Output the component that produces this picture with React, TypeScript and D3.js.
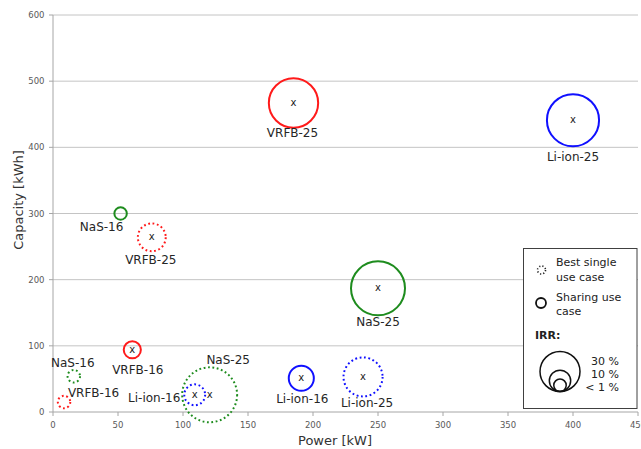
import React from "react";
import * as d3 from "d3";

// ---- data ----
const names = ["VRFB-25", "Li-ion-25", "NaS-16", "VRFB-25", "NaS-25", "VRFB-16", "NaS-16", "VRFB-16", "NaS-25", "Li-ion-16", "Li-ion-16", "Li-ion-25"];
const tech = ["VRFB", "Li-ion", "NaS", "VRFB", "NaS", "VRFB", "NaS", "VRFB", "NaS", "Li-ion", "Li-ion", "Li-ion"];
const useCase = ["sharing", "sharing", "sharing", "single", "sharing", "sharing", "single", "single", "single", "single", "sharing", "single"];
const power = [185, 400, 52, 76, 250, 61, 16, 8.5, 120.5, 109, 191, 238.5];
const capacity = [467, 441, 300, 264, 187, 94, 54, 15, 26, 26, 51, 53];
const irr = [40, 43, 0.5, 17, 45, 5.5, 0.5, 0.5, 46, 9.5, 14, 29];

const xTicks = [0, 50, 100, 150, 200, 250, 300, 350, 400, 450];
const yTicks = [0, 100, 200, 300, 400, 500, 600];
const legendIrr = [30, 10, 0.5];
const legendIrrLabels = ["30 %", "10 %", "< 1 %"];

// label placement (layout only), px offsets from bubble centre
const labelDx = [-1, 0, -19, -1, 0, 5.5, -1, 29.5, 18.5, -40.5, 1, 4];
const labelDy = [30, 36, 13.5, 22, 33, 20, -14, -9, -35, 3, 20, 26];

const colors: Record<string, string> = { VRFB: "#ff1a1a", "Li-ion": "#1010ff", NaS: "#1e8c1e" };

export default function App() {
  const W = 641, H = 449;
  const x = d3.scaleLinear().domain([0, 450]).range([53, 638]);
  const y = d3.scaleLinear().domain([0, 600]).range([412, 15]);
  const r = d3.scaleLinear().domain([0, 30]).range([6, 20]);
  const font = "'DejaVu Sans', Verdana, sans-serif";

  return (
    <svg width={W} height={H} style={{ position: "absolute", left: 0, top: 0, background: "#fff" }} fontFamily={font}>
      <rect x={0} y={0} width={W} height={H} fill="#fff" />
      {/* gridlines */}
      {yTicks.filter((t) => t > 0).map((t) => (
        <line key={"g" + t} x1={x(0)} x2={x(450)} y1={y(t)} y2={y(t)} stroke="#c4c4c4" strokeWidth={1} />
      ))}
      {/* axes */}
      <line x1={x(0)} x2={x(0)} y1={y(0)} y2={y(600)} stroke="#a6a6a6" />
      <line x1={x(0)} x2={x(450)} y1={y(0)} y2={y(0)} stroke="#a6a6a6" />
      {yTicks.map((t) => (
        <g key={"y" + t}>
          <line x1={x(0) - 4} x2={x(0)} y1={y(t)} y2={y(t)} stroke="#a6a6a6" />
          <text x={x(0) - 8.5} y={y(t) + 3} textAnchor="end" fontSize={8.5} fill="#595959">{t}</text>
        </g>
      ))}
      {xTicks.map((t) => (
        <g key={"x" + t}>
          <line x1={x(t)} x2={x(t)} y1={y(0)} y2={y(0) + 4} stroke="#a6a6a6" />
          <text x={x(t)} y={y(0) + 16} textAnchor="middle" fontSize={8.5} fill="#595959">{t}</text>
        </g>
      ))}
      <text x={335} y={445} textAnchor="middle" fontSize={13} fill="#333">Power [kW]</text>
      <text transform={`translate(23,200) rotate(-90)`} textAnchor="middle" fontSize={13} fill="#333">Capacity [kWh]</text>

      {/* bubbles */}
      {names.map((n, i) => {
        const cx = x(power[i]), cy = y(capacity[i]);
        const single = useCase[i] === "single";
        return (
          <g key={"b" + i}>
            <circle cx={cx} cy={cy} r={r(irr[i])} fill="none" stroke={colors[tech[i]]}
              strokeWidth={2} strokeDasharray={single ? "1.8 2.6" : undefined} />
            {irr[i] > 1 && (
              <text x={cx} y={cy + 3} textAnchor="middle" fontSize={10} fill="#222">x</text>
            )}
            <text x={cx + labelDx[i]} y={cy + labelDy[i] + 4.3} textAnchor="middle" fontSize={12} fill="#262626">{n}</text>
          </g>
        );
      })}

      {/* legend */}
      <rect x={523.5} y={248.5} width={113.5} height={160} fill="#fff" stroke="#404040" strokeWidth={1} />
      <circle cx={541.5} cy={270} r={4} fill="none" stroke="#222" strokeWidth={1.6} strokeDasharray="1.2 2" />
      <text x={556} y={265.5} fontSize={11} fill="#222">Best single</text>
      <text x={556} y={280.5} fontSize={11} fill="#222">use case</text>
      <circle cx={541} cy={303} r={5} fill="none" stroke="#111" strokeWidth={1.8} />
      <text x={556} y={300.5} fontSize={11} fill="#222">Sharing use</text>
      <text x={556} y={314.5} fontSize={11} fill="#222">case</text>
      <text x={535} y={339} fontSize={11} fontWeight="bold" fill="#222">IRR:</text>
      {legendIrr.map((v, i) => (
        <circle key={"lc" + i} cx={560} cy={391.5 - r(v)} r={r(v)} fill="none" stroke="#111" strokeWidth={1.5} />
      ))}
      {legendIrrLabels.map((l, i) => (
        <text key={"lt" + i} x={619} y={364.5 + i * 13} textAnchor="end" fontSize={11} fill="#222">{l}</text>
      ))}
    </svg>
  );
}
